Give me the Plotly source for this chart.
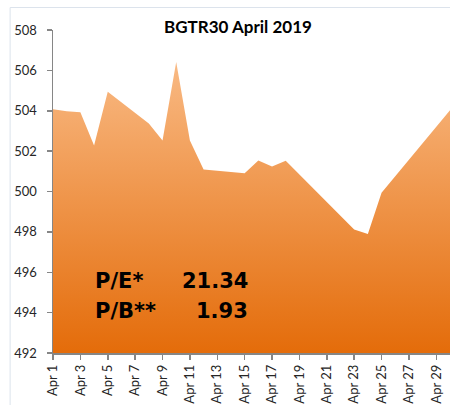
import plotly.graph_objects as go

dates = ["2019-04-01", "2019-04-02", "2019-04-03", "2019-04-04", "2019-04-05",
         "2019-04-08", "2019-04-09", "2019-04-10", "2019-04-11", "2019-04-12",
         "2019-04-15", "2019-04-16", "2019-04-17", "2019-04-18",
         "2019-04-23", "2019-04-24", "2019-04-25", "2019-04-30"]
values = [504.08, 503.98, 503.93, 502.28, 504.94,
          503.37, 502.53, 506.41, 502.53, 501.09,
          500.91, 501.54, 501.24, 501.52,
          498.12, 497.89, 499.94, 504.02]

tick_vals = ["2019-04-%02d" % d for d in range(1, 30, 2)]
tick_text = ["Apr %d" % d for d in range(1, 30, 2)]
y_ticks = [492, 494, 496, 498, 500, 502, 504, 506, 508]

title_text = "BGTR30 April 2019"
pe_label, pe_value = "P/E*", "21.34"
pb_label, pb_value = "P/B**", "1.93"

W, H = 450, 405

fig = go.Figure()
fig.add_trace(go.Scatter(
    x=dates, y=values, mode="lines", line=dict(width=0, color="#f4a460"),
    fill="tozeroy",
    fillgradient=dict(type="vertical",
                      colorscale=[[0, "#e46c0a"], [1, "#fbc291"]],
                      start=492, stop=508),
    hoverinfo="skip", showlegend=False,
))

axis_col = "#868686"
fig.update_layout(
    width=W, height=H,
    margin=dict(l=53, r=0, t=30, b=52),
    paper_bgcolor="white", plot_bgcolor="white",
    title=dict(text="<b>%s</b>" % title_text, x=238 / W, xanchor="center",
               y=1 - 27 / H, yanchor="middle",
               font=dict(family="Lato", size=17, color="black")),
    xaxis=dict(type="date", range=["2019-04-01", "2019-04-30"],
               tickvals=tick_vals, ticktext=tick_text, tickangle=-90,
               ticks="outside", ticklen=5, tickcolor=axis_col, tickwidth=1.5,
               showline=True, linecolor=axis_col, linewidth=1.5,
               showgrid=False, zeroline=False, automargin=False,
               tickfont=dict(family="Lato", size=13, color="#262626")),
    yaxis=dict(range=[492, 508], tickvals=y_ticks,
               ticks="outside", ticklen=5, tickcolor=axis_col, tickwidth=1.5,
               showline=True, linecolor=axis_col, linewidth=1.5,
               showgrid=False, zeroline=False, automargin=False,
               ticklabelstandoff=7,
               tickfont=dict(family="Lato", size=13, color="#262626")),
    shapes=[dict(type="rect", xref="paper", yref="paper",
                 x0=-0.108, x1=1.2, y0=-0.5, y1=1.0696,
                 line=dict(color="#dce3ec", width=1), layer="below")],
)

ann_font = dict(family="DejaVu Sans", size=21, color="black")
for lab, val, yy in [(pe_label, pe_value, 0.222), (pb_label, pb_value, 0.131)]:
    fig.add_annotation(xref="paper", yref="paper", x=0.1008, y=yy,
                       xanchor="left", yanchor="middle", showarrow=False,
                       text="<b>%s</b>" % lab, font=ann_font)
    fig.add_annotation(xref="paper", yref="paper", x=0.496, y=yy,
                       xanchor="right", yanchor="middle", showarrow=False,
                       text="<b>%s</b>" % val, font=ann_font)

fig.write_html("out.html",
               config={"displayModeBar": False, "staticPlot": True},
               post_script="document.body.style.margin='0';"
                           "document.body.style.overflow='hidden';")
